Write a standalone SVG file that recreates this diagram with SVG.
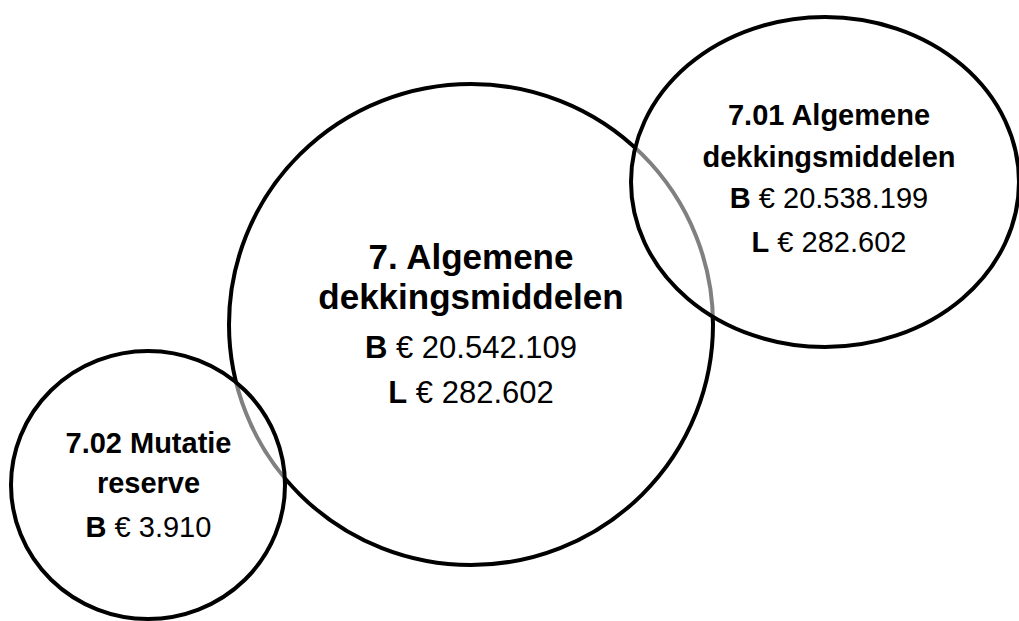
<svg xmlns="http://www.w3.org/2000/svg" width="1019" height="621" viewBox="0 0 1019 621">
<style>
.ring{stroke:#000;stroke-width:4}
.main{fill:#fff}
.sub{fill:#fff;fill-opacity:0.5}
text{font-family:"Liberation Sans",Arial,sans-serif;fill:#000;text-anchor:middle}
.b{font-weight:bold}
.t1{font-size:35px;font-weight:bold}
.v1{font-size:31px}
.t2{font-size:29px}
</style>
<rect width="1019" height="621" fill="#fff"/>
<g id="node-main">
<ellipse class="ring main" cx="471" cy="324.5" rx="242" ry="240.5"/>
<text class="t1" x="471" y="269">7. Algemene</text>
<text class="t1" x="471" y="309">dekkingsmiddelen</text>
<text class="v1" x="471" y="358"><tspan class="b">B</tspan> € 20.542.109</text>
<text class="v1" x="471" y="403"><tspan class="b">L</tspan> € 282.602</text>
</g>
<g id="node-701">
<ellipse class="ring sub" cx="825" cy="182" rx="194" ry="165"/>
<text class="t2 b" x="829" y="125">7.01 Algemene</text>
<text class="t2 b" x="829" y="167">dekkingsmiddelen</text>
<text class="t2" x="829" y="208"><tspan class="b">B</tspan> € 20.538.199</text>
<text class="t2" x="829" y="252"><tspan class="b">L</tspan> € 282.602</text>
</g>
<g id="node-702">
<ellipse class="ring sub" cx="148" cy="485" rx="137" ry="134"/>
<text class="t2 b" x="148.5" y="453">7.02 Mutatie</text>
<text class="t2 b" x="148.5" y="493">reserve</text>
<text class="t2" x="148.5" y="537"><tspan class="b">B</tspan> € 3.910</text>
</g>
<g id="connectors"></g>
</svg>
